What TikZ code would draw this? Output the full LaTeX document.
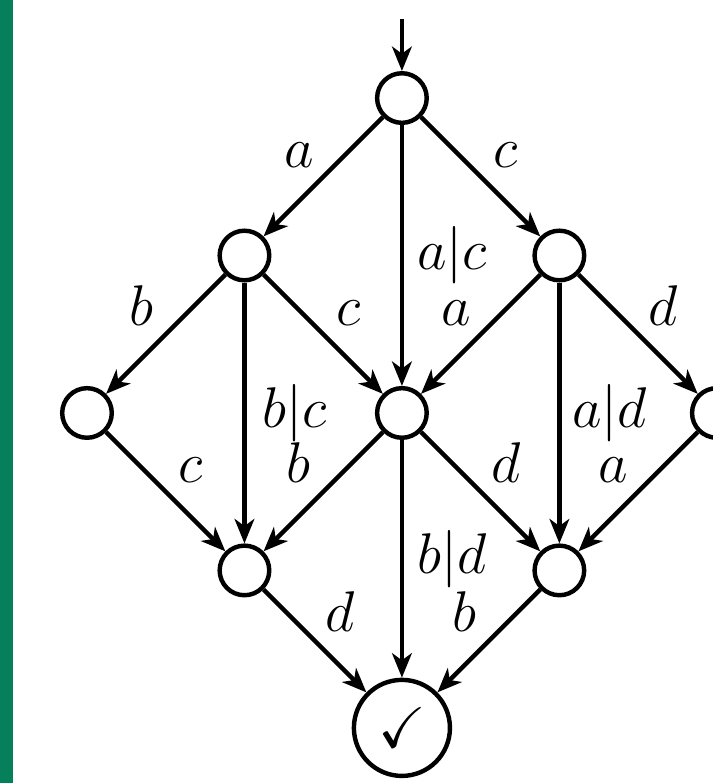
\documentclass[tikz,border=0pt]{standalone}
\usepackage{amssymb}
\usetikzlibrary{arrows.meta,positioning}
\definecolor{barcol}{HTML}{06805A}
\tikzset{state/.style={draw,circle,line width=1.6pt,minimum size=6.3mm,inner sep=0pt},final/.style={state,minimum size=12.2mm,font=\huge},edge/.style={-{Stealth[length=3.1mm,width=2.5mm,inset=0.9mm]},line width=1.6pt},lab/.style={midway,inner sep=0pt,font=\huge},diag/.style={lab,text height=5.06mm,text depth=0pt},nw/.style={diag,xshift=-3.1mm,yshift=3.7mm},ne/.style={diag,xshift=3.2mm,yshift=3.7mm},rt/.style={lab,xshift=6.4mm}}

\begin{document}
\begin{tikzpicture}[on grid,node distance=2cm and 2cm]
\useasboundingbox (-5.105,-8.70) rectangle (3.95,1.245);
\fill[barcol] (-5.105,-8.70) rectangle (-4.945,1.245);
\node[state] (top) {};
\node[state,below left=of top] (l1) {};
\node[state,below right=of top] (r1) {};
\node[state,below left=of l1] (ll) {};
\node[state,below right=of l1] (mid) {};
\node[state,below right=of r1] (rr) {};
\node[state,below left=of mid] (l2) {};
\node[state,below right=of mid] (r2) {};
\node[final,below left=of r2] (acc) {$\checkmark$};
\coordinate[above=1cm of top] (start);
\draw[edge] (start) -- (top);
\draw[edge] (top) -- node[nw] {$a$} (l1);
\draw[edge] (top) -- node[ne] {$c$} (r1);
\draw[edge] (top) -- node[rt] {$a|c$} (mid);
\draw[edge] (l1) -- node[nw] {$b$} (ll);
\draw[edge] (l1) -- node[ne] {$c$} (mid);
\draw[edge] (l1) -- node[rt] {$b|c$} (l2);
\draw[edge] (r1) -- node[nw] {$a$} (mid);
\draw[edge] (r1) -- node[ne] {$d$} (rr);
\draw[edge] (r1) -- node[rt] {$a|d$} (r2);
\draw[edge] (ll) -- node[ne] {$c$} (l2);
\draw[edge] (mid) -- node[nw] {$b$} (l2);
\draw[edge] (mid) -- node[ne] {$d$} (r2);
\draw[edge] (mid) -- node[rt] {$b|d$} (acc);
\draw[edge] (rr) -- node[nw] {$a$} (r2);
\draw[edge] (l2) -- node[ne] {$d$} (acc);
\draw[edge] (r2) -- node[nw] {$b$} (acc);
\end{tikzpicture}
\end{document}
